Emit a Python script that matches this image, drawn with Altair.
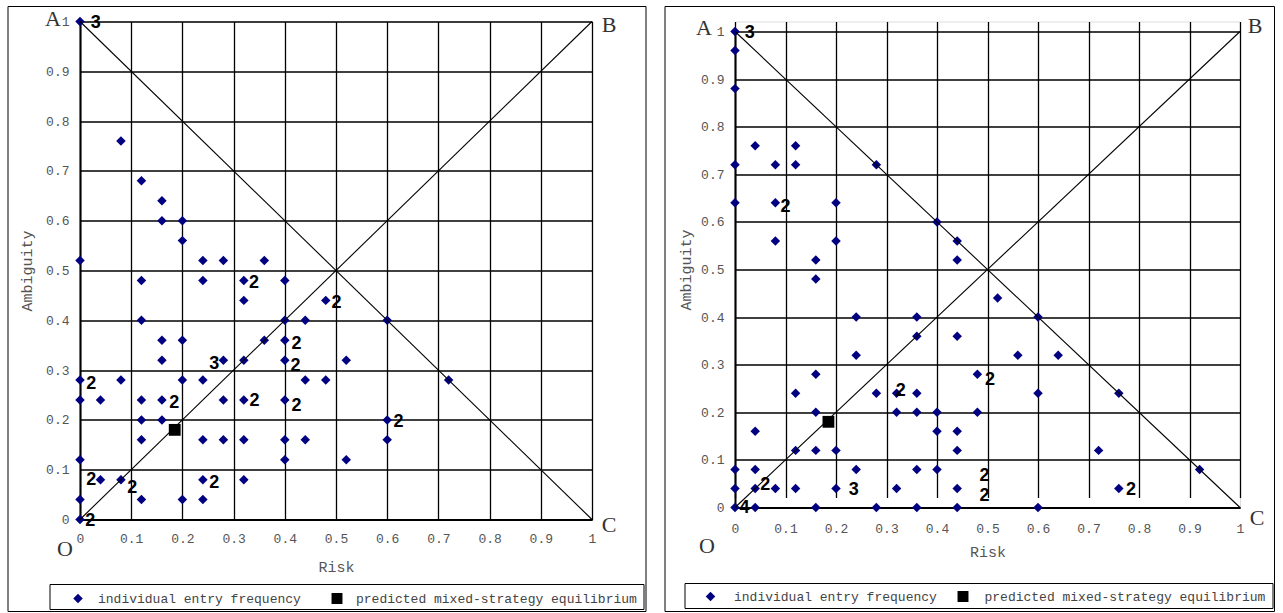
import altair as alt
import pandas as pd

TICKS = [0, 0.1, 0.2, 0.3, 0.4, 0.5, 0.6, 0.7, 0.8, 0.9, 1.0]

# ---- left panel: individual entry frequency
L_X = [0, 0.08, 0.12, 0.16, 0.16, 0.20, 0.20, 0, 0.24, 0.28, 0.36, 0.12, 0.24, 0.32, 0.40,
       0.32, 0.48, 0.12, 0.40, 0.44, 0.60, 0.16, 0.20, 0.36, 0.40, 0.16, 0.28, 0.32, 0.40, 0.52,
       0, 0.08, 0.20, 0.24, 0.44, 0.48, 0.72, 0, 0.04, 0.12, 0.16, 0.28, 0.32, 0.40,
       0.12, 0.16, 0.60, 0.12, 0.24, 0.28, 0.32, 0.40, 0.44, 0.60, 0, 0.40, 0.52,
       0.04, 0.08, 0.24, 0.32, 0, 0.12, 0.20, 0.24, 0]
L_Y = [1.0, 0.76, 0.68, 0.64, 0.60, 0.60, 0.56, 0.52, 0.52, 0.52, 0.52, 0.48, 0.48, 0.48, 0.48,
       0.44, 0.44, 0.40, 0.40, 0.40, 0.40, 0.36, 0.36, 0.36, 0.36, 0.32, 0.32, 0.32, 0.32, 0.32,
       0.28, 0.28, 0.28, 0.28, 0.28, 0.28, 0.28, 0.24, 0.24, 0.24, 0.24, 0.24, 0.24, 0.24,
       0.20, 0.20, 0.20, 0.16, 0.16, 0.16, 0.16, 0.16, 0.16, 0.16, 0.12, 0.12, 0.12,
       0.08, 0.08, 0.08, 0.08, 0.04, 0.04, 0.04, 0.04, 0]
L_LAB_X = [0.031, 0.340, 0.501, 0.423, 0.421, 0.262, 0.022, 0.184, 0.341, 0.423, 0.022, 0.102, 0.262, 0.020, 0.622]
L_LAB_Y = [0.996, 0.474, 0.435, 0.352, 0.309, 0.312, 0.272, 0.233, 0.237, 0.228, 0.079, 0.064, 0.074, -0.004, 0.195]
L_LAB_T = ["3", "2", "2", "2", "2", "3", "2", "2", "2", "2", "2", "2", "2", "2", "2"]

# ---- right panel
R_X = [0, 0, 0, 0.04, 0.12, 0, 0.08, 0.12, 0.28, 0, 0.08, 0.20, 0.40, 0.08, 0.20, 0.44, 0.16, 0.44,
       0.16, 0.52, 0.24, 0.36, 0.60, 0.36, 0.44, 0.24, 0.56, 0.64, 0.16, 0.48, 0.12, 0.28, 0.32,
       0.36, 0.60, 0.76, 0.16, 0.32, 0.36, 0.40, 0.48, 0.04, 0.40, 0.44, 0.12, 0.16, 0.20, 0.44,
       0.72, 0, 0.04, 0.24, 0.36, 0.40, 0.92, 0, 0.04, 0.08, 0.12, 0.20, 0.32, 0.44, 0.76,
       0, 0.04, 0.16, 0.28, 0.36, 0.44, 0.60]
R_Y = [1.0, 0.96, 0.88, 0.76, 0.76, 0.72, 0.72, 0.72, 0.72, 0.64, 0.64, 0.64, 0.60, 0.56, 0.56, 0.56, 0.52, 0.52,
       0.48, 0.44, 0.40, 0.40, 0.40, 0.36, 0.36, 0.32, 0.32, 0.32, 0.28, 0.28, 0.24, 0.24, 0.24,
       0.24, 0.24, 0.24, 0.20, 0.20, 0.20, 0.20, 0.20, 0.16, 0.16, 0.16, 0.12, 0.12, 0.12, 0.12,
       0.12, 0.08, 0.08, 0.08, 0.08, 0.08, 0.08, 0.04, 0.04, 0.04, 0.04, 0.04, 0.04, 0.04, 0.04,
       0, 0, 0, 0, 0, 0, 0]
R_LAB_X = [0.029, 0.100, 0.328, 0.505, 0.060, 0.235, 0.019, 0.494, 0.494, 0.784]
R_LAB_Y = [0.997, 0.631, 0.244, 0.267, 0.048, 0.036, 0.000, 0.067, 0.025, 0.036]
R_LAB_T = ["3", "2", "2", "2", "2", "3", "4", "2", "2", "2"]

# predicted mixed-strategy equilibrium
EQ_X = [0.185]
EQ_Y = [0.18]

# reference diagonals O-B and A-C
DIAG_X = [0, 0]
DIAG_Y = [0, 1]
DIAG_X2 = [1, 1]
DIAG_Y2 = [1, 0]

LEGEND_TEXT = ["individual entry frequency", "predicted mixed-strategy equilibrium"]

MONO = "Liberation Mono"
SERIF = "Liberation Serif"
SANS = "Liberation Sans"
GRAY = "#555555"
NAVY = "#000080"


def panel(px, py, lx, ly, lt, W, H, geo):
    top = geo["top"]
    HT = H + top
    xs = alt.Scale(domain=[0, 1], nice=False, zero=False)
    ys = alt.Scale(domain=[0, 1], nice=False, zero=False, range=[HT, top])
    common = dict(values=TICKS, format="~g", grid=True, gridColor="black", gridWidth=1.3,
                  gridOpacity=1, domainColor="black", domainWidth=2, ticks=False, tickSize=0,
                  labelFont=MONO, labelFontSize=13, labelColor=GRAY, labelFlush=False,
                  labelOverlap=False, titleFont=MONO, titleFontSize=15, titleFontWeight="normal",
                  titleColor=GRAY, titleBaseline="middle", titleAlign="center")
    xaxis = alt.Axis(title="Risk", labelPadding=geo["xpad"], titleX=W / 2, titleY=geo["xty"], **common)
    yaxis = alt.Axis(title="Ambiguity", labelPadding=11, titleX=geo["ytx"], titleY=top + H / 2,
                     titleAngle=270, **common)
    X = alt.X("x:Q", scale=xs, axis=xaxis)
    Y = alt.Y("y:Q", scale=ys, axis=yaxis)

    one = pd.DataFrame({"a": [0]})
    border = alt.Chart(one).mark_rect(fillOpacity=0, stroke="black", strokeWidth=1).encode(
        x=alt.value(geo["bx"][0]), x2=alt.value(geo["bx"][1]),
        y=alt.value(geo["by"][0]), y2=alt.value(geo["by"][1]))
    legbox = alt.Chart(one).mark_rect(fillOpacity=0, stroke="black", strokeWidth=1).encode(
        x=alt.value(geo["lx"][0]), x2=alt.value(geo["lx"][1]),
        y=alt.value(geo["ly"][0]), y2=alt.value(geo["ly"][1]))

    diag = alt.Chart(pd.DataFrame({"x": DIAG_X, "y": DIAG_Y, "x2": DIAG_X2, "y2": DIAG_Y2})).mark_rule(
        color="black", strokeWidth=1.1).encode(x=X, y=Y, x2="x2:Q", y2="y2:Q")

    pts = alt.Chart(pd.DataFrame({"x": px, "y": py})).mark_point(
        shape="diamond", filled=True, size=90, color=NAVY, opacity=1).encode(x=X, y=Y)

    eq = alt.Chart(pd.DataFrame({"x": EQ_X, "y": EQ_Y})).mark_point(
        shape="square", filled=True, size=140, color="black", opacity=1).encode(x=X, y=Y)

    labs = alt.Chart(pd.DataFrame({"x": lx, "y": ly, "t": lt})).mark_text(
        font=SANS, fontWeight="bold", fontSize=18, color="black", align="center",
        baseline="middle").encode(x=X, y=Y, text="t:N")

    letters = []
    for txt, cx, cy, (dx, dy) in zip(["A", "B", "C", "O"], [0, 1, 1, 0], [1, 1, 0, 0], geo["letters"]):
        letters.append(alt.Chart(pd.DataFrame({"x": [cx], "y": [cy], "t": [txt]})).mark_text(
            font=SERIF, fontSize=22, color="#333333", align="center", baseline="middle",
            dx=dx, dy=dy).encode(x=X, y=Y, text="t:N"))

    lg = geo["leg"]
    leg_d = alt.Chart(one).mark_point(shape="diamond", filled=True, size=90, color=NAVY, opacity=1).encode(
        x=alt.value(lg[0]), y=alt.value(lg[4]))
    leg_dt = alt.Chart(one).mark_text(font=MONO, fontSize=13, color="#444444", align="left",
                                      baseline="middle", text=LEGEND_TEXT[0]).encode(
        x=alt.value(lg[1]), y=alt.value(lg[4]))
    leg_s = alt.Chart(one).mark_point(shape="square", filled=True, size=120, color="black", opacity=1).encode(
        x=alt.value(lg[2]), y=alt.value(lg[4]))
    leg_st = alt.Chart(one).mark_text(font=MONO, fontSize=13, color="#444444", align="left",
                                      baseline="middle", text=LEGEND_TEXT[1]).encode(
        x=alt.value(lg[3]), y=alt.value(lg[4]))

    return alt.layer(pts, border, legbox, diag, eq, labs, *letters, leg_d, leg_dt, leg_s, leg_st).properties(
        width=W, height=HT)


left = panel(L_X, L_Y, L_LAB_X, L_LAB_Y, L_LAB_T, 512, 498, dict(
    top=0, xpad=12.5, xty=47, ytx=-54,
    bx=(-72, 566), by=(-15, 590), lx=(-30, 564), ly=(563, 588),
    letters=[(-27, -3), (17, 3), (17, 5), (-15, 29)],
    leg=(-2, 18, 257, 276, 577)))

right = panel(R_X, R_Y, R_LAB_X, R_LAB_Y, R_LAB_T, 505, 476, dict(
    top=10, xpad=14.5, xty=44, ytx=-50,
    bx=(-70, 539.5), by=(-15, 590), lx=(-50, 538), ly=(562, 587),
    letters=[(-31, -4), (15, -6), (17, 10), (-28, 38)],
    leg=(-24.5, -1, 228, 249.5, 575)))

chart = alt.hconcat(left, right, spacing=17).properties(
    padding={"left": 7, "top": 5.5, "right": 0, "bottom": 0}
).configure_view(stroke="transparent").configure(background="white")

chart.save("out.html", embed_options={"renderer": "svg", "actions": False})
